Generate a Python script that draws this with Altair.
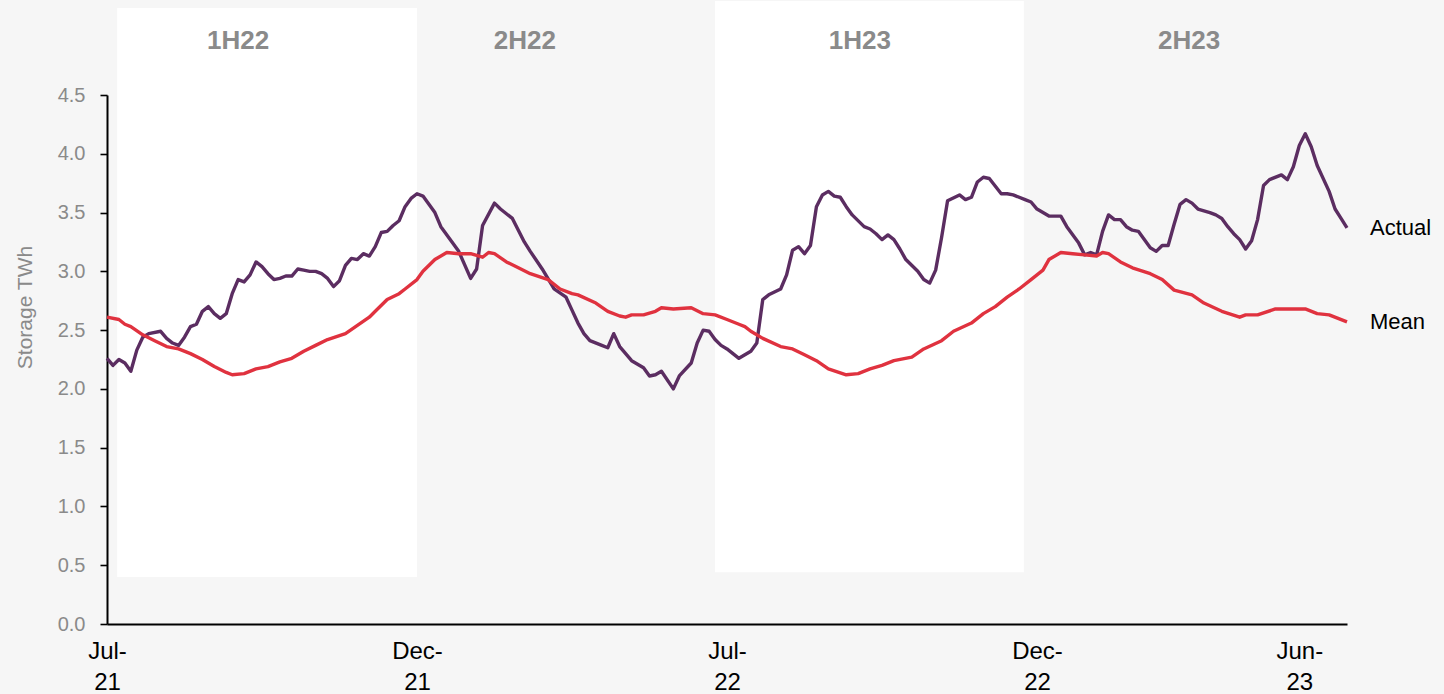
import altair as alt
import pandas as pd

# Half-week index (0 = start of Jul-21, 208 = end of Jun-23)
act_idx = [0, 1, 2, 3, 4, 5, 6, 7, 9, 10, 11, 12, 13, 14, 15, 16, 17, 18, 19, 20,
           21, 22, 23, 24, 25, 26, 27, 28, 29, 30, 31, 32, 33, 34, 35, 36, 37, 38, 39, 40,
           41, 42, 43, 44, 45, 46, 47, 48, 49, 50, 51, 52, 53, 55, 56, 59, 61, 62, 63, 65,
           66, 68, 69, 70, 71, 73, 75, 77, 78, 79, 80, 81, 83, 84, 85, 86, 88, 90, 91, 92,
           93, 95, 96, 98, 99, 100, 101, 102, 103, 104, 106, 107, 108, 109, 110, 111, 113, 114, 115, 116,
           117, 118, 119, 120, 121, 122, 123, 124, 125, 127, 128, 129, 130, 131, 132, 133, 134, 136, 137, 138,
           139, 140, 141, 143, 144, 145, 146, 147, 148, 150, 151, 152, 154, 155, 156, 158, 160, 161, 163, 164,
           165, 166, 167, 168, 169, 170, 171, 172, 173, 174, 175, 176, 177, 178, 179, 180, 181, 182, 183, 185,
           186, 187, 188, 189, 190, 191, 192, 193, 194, 195, 197, 198, 199, 200, 201, 202, 203, 205, 206, 207,
           208]
act_val = [2.26, 2.20, 2.25, 2.22, 2.15, 2.33, 2.44, 2.47, 2.49, 2.43, 2.39, 2.37, 2.44, 2.53, 2.55, 2.66, 2.70, 2.64, 2.60, 2.64,
           2.81, 2.93, 2.91, 2.97, 3.08, 3.04, 2.98, 2.93, 2.94, 2.96, 2.96, 3.02, 3.01, 3.00, 3.00, 2.98, 2.94, 2.87, 2.92, 3.05,
           3.11, 3.10, 3.15, 3.13, 3.21, 3.33, 3.34, 3.39, 3.43, 3.55, 3.62, 3.66, 3.64, 3.50, 3.38, 3.17, 2.94, 3.02, 3.39, 3.58,
           3.53, 3.45, 3.35, 3.25, 3.17, 3.02, 2.85, 2.78, 2.67, 2.56, 2.47, 2.41, 2.37, 2.35, 2.47, 2.36, 2.24, 2.18, 2.11, 2.12,
           2.15, 2.00, 2.11, 2.22, 2.39, 2.50, 2.49, 2.42, 2.37, 2.34, 2.26, 2.29, 2.32, 2.39, 2.76, 2.80, 2.85, 2.97, 3.18, 3.21,
           3.15, 3.22, 3.55, 3.65, 3.68, 3.64, 3.63, 3.55, 3.48, 3.38, 3.36, 3.32, 3.27, 3.31, 3.27, 3.19, 3.10, 3.00, 2.93, 2.90,
           3.01, 3.29, 3.60, 3.65, 3.61, 3.63, 3.76, 3.80, 3.79, 3.66, 3.66, 3.65, 3.61, 3.59, 3.53, 3.47, 3.47, 3.38, 3.24, 3.14,
           3.16, 3.14, 3.34, 3.48, 3.44, 3.44, 3.38, 3.35, 3.34, 3.27, 3.20, 3.17, 3.22, 3.22, 3.40, 3.57, 3.61, 3.58, 3.53, 3.50,
           3.48, 3.45, 3.38, 3.32, 3.27, 3.19, 3.26, 3.44, 3.73, 3.78, 3.82, 3.78, 3.89, 4.07, 4.17, 4.06, 3.90, 3.68, 3.53, 3.45,
           3.37]

mean_idx = [0, 2, 3, 4, 6, 8, 10, 12, 14, 16, 18, 20, 21, 23, 25, 27, 29, 31, 33, 35,
            37, 40, 42, 44, 45, 47, 49, 50, 52, 53, 55, 57, 59, 61, 63, 64, 65, 67, 69, 71,
            74, 76, 78, 79, 82, 84, 86, 87, 88, 90, 92, 93, 95, 98, 100, 102, 104, 106, 107, 108,
            110, 113, 115, 117, 119, 121, 124, 126, 128, 130, 132, 135, 137, 140, 142, 145, 147, 149, 151, 153,
            155, 157, 158, 160, 162, 164, 166, 167, 168, 170, 172, 175, 177, 179, 182, 184, 187, 190, 191, 193,
            196, 198, 201, 203, 205, 208]
mean_val = [2.61, 2.59, 2.55, 2.53, 2.46, 2.41, 2.36, 2.34, 2.30, 2.25, 2.19, 2.14, 2.12, 2.13, 2.17, 2.19, 2.23, 2.26, 2.32, 2.37,
            2.42, 2.47, 2.54, 2.61, 2.66, 2.76, 2.81, 2.85, 2.93, 3.00, 3.10, 3.16, 3.15, 3.15, 3.12, 3.16, 3.15, 3.08, 3.03, 2.98,
            2.93, 2.85, 2.81, 2.80, 2.73, 2.66, 2.62, 2.61, 2.63, 2.63, 2.66, 2.69, 2.68, 2.69, 2.64, 2.63, 2.59, 2.55, 2.53, 2.49,
            2.43, 2.36, 2.34, 2.29, 2.24, 2.17, 2.12, 2.13, 2.17, 2.20, 2.24, 2.27, 2.34, 2.41, 2.49, 2.56, 2.64, 2.70, 2.78, 2.85,
            2.93, 3.01, 3.10, 3.16, 3.15, 3.14, 3.13, 3.16, 3.15, 3.08, 3.03, 2.98, 2.93, 2.84, 2.80, 2.73, 2.66, 2.61, 2.63, 2.63,
            2.68, 2.68, 2.68, 2.64, 2.63, 2.57]

# X-axis tick labels (two-line) and their half-week positions
tick_pos = [0, 52, 104, 156, 200]
tick_month = ["Jul-", "Dec-", "Jul-", "Dec-", "Jun-"]
tick_year = ["21", "21", "22", "22", "23"]

# Highlighted half-year panels
band_start = [1.7, 102.0]
band_end = [52.0, 153.8]
band_low = [0.40, 0.44]
band_high = [5.24, 5.30]

# Period headings
period_names = ["1H22", "2H22", "1H23", "2H23"]
period_pos = [22.0, 70.1, 126.3, 181.5]
period_level = 4.96

series_names = ["Actual", "Mean"]
series_colors = ["#5b2d61", "#e0323f"]

FONT = "Liberation Sans, Arial, sans-serif"
Y_DOMAIN = [0, 4.5]
X_DOMAIN = [0, 208]

lines_df = pd.concat([
    pd.DataFrame({"idx": act_idx, "value": act_val, "series": "Actual"}),
    pd.DataFrame({"idx": mean_idx, "value": mean_val, "series": "Mean"}),
], ignore_index=True)

end_df = pd.DataFrame({
    "idx": [act_idx[-1], mean_idx[-1]],
    "value": [act_val[-1], mean_val[-1]],
    "series": series_names,
})

bands_df = pd.DataFrame({"idx": band_start, "x1": band_end, "value": band_low, "y1": band_high})
periods_df = pd.DataFrame({"name": period_names, "idx": period_pos, "value": period_level})

label_expr = " : ".join(
    f"datum.value == {p} ? ['{m}', '{y}']" for p, m, y in zip(tick_pos, tick_month, tick_year)
) + " : ''"

x_scale = alt.Scale(domain=X_DOMAIN, nice=False, zero=False)
y_scale = alt.Scale(domain=Y_DOMAIN, nice=False, zero=True)

x_axis = alt.Axis(
    values=tick_pos, labelExpr=label_expr, title=None, grid=False,
    ticks=False, tickSize=0, labelPadding=15, labelFont=FONT, labelFontSize=24,
    labelColor="black", labelLineHeight=31, labelAlign="center", labelBaseline="top",
    domainColor="black", domainWidth=2, labelOverlap=False, labelFlush=False,
)
y_axis = alt.Axis(
    values=[0, 0.5, 1, 1.5, 2, 2.5, 3, 3.5, 4, 4.5], format=".1f",
    title="Storage TWh", titleFont=FONT, titleFontSize=21, titleFontWeight="normal",
    titleColor="#8a8a8a", titleAngle=270, titleX=-82, titleY=212,
    titleAlign="center", titleBaseline="middle",
    grid=False, tickSize=7, tickColor="black", tickWidth=1.6,
    labelPadding=15, labelFont=FONT, labelFontSize=20, labelColor="#8a8a8a",
    domainColor="black", domainWidth=2, labelFlush=False,
)

X = alt.X("idx:Q", scale=x_scale, axis=x_axis)
Y = alt.Y("value:Q", scale=y_scale, axis=y_axis)

bands = alt.Chart(bands_df).mark_rect(color="white").encode(
    x=X, x2="x1:Q", y=Y, y2="y1:Q",
)

periods = alt.Chart(periods_df).mark_text(
    font=FONT, fontSize=26, fontWeight="bold", color="#8a8a8a",
    align="center", baseline="middle",
).encode(x=X, y=Y, text="name:N")

color_scale = alt.Scale(domain=series_names, range=series_colors)

lines = alt.Chart(lines_df).mark_line(strokeWidth=3.4, strokeJoin="round").encode(
    x=X, y=Y,
    color=alt.Color("series:N", scale=color_scale, legend=None),
    detail="series:N",
)

end_labels = alt.Chart(end_df).mark_text(
    font=FONT, fontSize=22, color="black", align="left", baseline="middle", dx=23,
).encode(x=X, y=Y, text="series:N")

chart = alt.layer(bands, periods, lines, end_labels).properties(
    width=1240,
    height=529,
    background="#f6f6f6",
    autosize=alt.AutoSizeParams(type="none"),
    padding={"left": 107, "top": 95, "right": 97, "bottom": 70},
).configure_view(stroke=None)

chart.save("out.html", embed_options={"renderer": "svg", "actions": False})
